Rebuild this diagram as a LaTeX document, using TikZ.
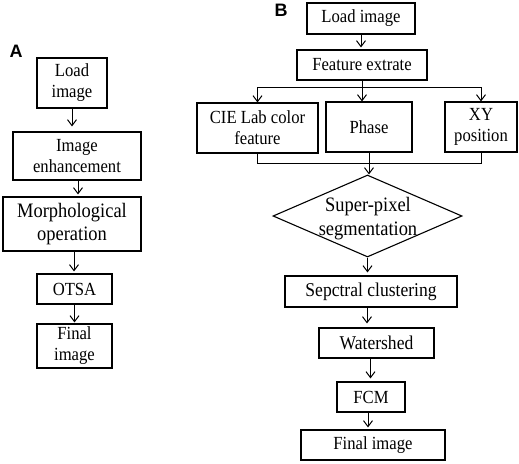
\documentclass[tikz,border=0pt]{standalone}
\usepackage{fontspec}
\setmainfont{Liberation Serif}[FakeStretch=0.9]
\newfontfamily\labfont{Liberation Sans}
\usetikzlibrary{shapes.geometric,arrows.meta}
\tikzset{
  box/.style={draw,line width=1.1pt,inner sep=0pt,align=center,font=\fontsize{18.5}{21}\selectfont},
  arr/.style={line width=1pt,-{Straight Barb[length=6pt,width=9pt,line width=1pt]},shorten >=2pt},
  ln/.style={line width=1pt},
  panel/.style={font=\labfont\bfseries\fontsize{18}{18}\selectfont,inner sep=0pt}
}
\begin{document}
\begin{tikzpicture}[x=1pt,y=-1pt]
\useasboundingbox (0,0) rectangle (519,463);
% Panel A
\node[panel] (pa) at (16,51.5) {A};
\node[box,minimum width=70,minimum height=50] (la) at (72,83) {Load\\image};
\node[box,minimum width=128,minimum height=48] (ie) at (77,156) {Image\\enhancement};
\node[box,minimum width=138,minimum height=54,font=\fontsize{20.5}{23}\selectfont] (mo) at (72,224) {Morphological\\operation};
\node[box,minimum width=75,minimum height=30] (ot) at (74.5,289) {OTSA};
\node[box,minimum width=75,minimum height=44] (fa) at (74.5,346) {Final\\image};
\draw[arr,shorten >=5pt] (la.south) -- (la.south |- ie.north);
\draw[arr] ([xshift=1pt]ie.south) -- ([xshift=1pt]ie.south |- mo.north);
\draw[arr] ([xshift=2pt]mo.south) -- ([xshift=2pt]mo.south |- ot.north);
\draw[arr,shorten >=1pt] (ot.south) -- (ot.south |- fa.north);
% Panel B
\node[panel] (pb) at (281,10.5) {B};
\node[box,minimum width=108,minimum height=31] (li) at (361,18.5) {Load image};
\node[box,minimum width=130,minimum height=30] (fe) at (362,65) {Feature extrate};
\node[box,minimum width=121,minimum height=50] (cie) at (257.5,128) {CIE Lab color\\feature};
\node[box,minimum width=86,minimum height=50] (ph) at (369,127) {Phase};
\node[box,minimum width=72,minimum height=50] (xy) at (481,127) {XY\\position};
\node[draw,line width=1.1pt,diamond,inner sep=0pt,minimum width=189,minimum height=82] (di) at (367.5,216) {};
\node[align=center,inner sep=0pt,font=\fontsize{20.5}{24}\selectfont] (dit) at (368,219) {Super-pixel\\segmentation};
\node[box,minimum width=172,minimum height=31,font=\fontsize{19.5}{21}\selectfont] (sc) at (371,291.5) {Sepctral clustering};
\node[box,minimum width=115,minimum height=30,font=\fontsize{19.5}{21}\selectfont] (ws) at (376.5,343) {Watershed};
\node[box,minimum width=68,minimum height=30] (fcm) at (371,397) {FCM};
\node[box,minimum width=144,minimum height=30] (fi) at (373,445) {Final image};
\draw[arr] (li.south) -- (li.south |- fe.north);
\draw[ln] (fe.south) -- ++(0,7) coordinate (br);
\draw[arr,shorten >=0pt] (br) -| (cie.north);
\draw[arr,shorten >=0pt] (br) -| (xy.north);
\draw[arr,shorten >=0pt] (br) -- (br |- ph.north);
\draw[ln] (cie.south) -- ++(0,10) -| (xy.south);
\draw[arr,shorten >=0pt] (ph.south) -- (ph.south |- di.north);
\draw[arr,shorten >=3pt] (di.south) -- (di.south |- sc.north);
\draw[arr,shorten >=4pt] ([xshift=-4pt]sc.south) -- ([xshift=-4pt]sc.south |- ws.north);
\draw[arr,shorten >=3pt] ([xshift=-6pt]ws.south) -- ([xshift=-6pt]ws.south |- fcm.north);
\draw[arr,shorten >=2pt] ([xshift=-3pt]fcm.south) -- ([xshift=-3pt]fcm.south |- fi.north);
\end{tikzpicture}
\end{document}
